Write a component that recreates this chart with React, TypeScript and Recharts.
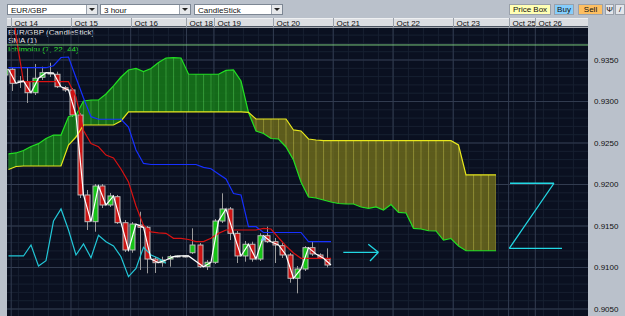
import {
  Area,
  Bar,
  CartesianGrid,
  ComposedChart,
  Line,
  ReferenceDot,
  ReferenceLine,
  XAxis,
  YAxis,
} from "recharts";

const FONT = "'Liberation Sans', Arial, sans-serif";

// candles (3 hour), index 0..43
const opens = [
  0.93319, 0.93388, 0.93235, 0.93239, 0.93106, 0.93292, 0.93337, 0.93328, 0.93166, 0.93139,
  0.92837, 0.91874, 0.91552, 0.91982, 0.91753, 0.91853, 0.9154, 0.91211, 0.91512, 0.91484,
  0.91102, 0.91058, 0.91102, 0.91133, 0.91139, 0.91178, 0.91271, 0.9101, 0.91063, 0.9156,
  0.91705, 0.91412, 0.91139, 0.9128, 0.91102, 0.91383, 0.91311, 0.91263, 0.91151, 0.9087,
  0.90982, 0.91239, 0.91151, 0.91102,
];
const highs = [
  0.93428, 0.93404, 0.93307, 0.93404, 0.93452, 0.93419, 0.93467, 0.93359, 0.93187, 0.93163,
  0.92862, 0.91934, 0.92006, 0.92006, 0.91898, 0.91874, 0.91572, 0.91548, 0.91672, 0.915,
  0.91127, 0.9113, 0.91151, 0.91145, 0.91145, 0.91472, 0.91295, 0.9109, 0.91584, 0.91894,
  0.91729, 0.9144, 0.91319, 0.91311, 0.91412, 0.91492, 0.91356, 0.91295, 0.91175, 0.91018,
  0.91259, 0.91311, 0.91171, 0.91231,
];
const lows = [
  0.93283, 0.93127, 0.93163, 0.92982, 0.93078, 0.93259, 0.93295, 0.93163, 0.93115, 0.92813,
  0.91837, 0.91452, 0.91431, 0.91717, 0.91729, 0.91524, 0.91187, 0.91178, 0.9097, 0.9093,
  0.90934, 0.9101, 0.9101, 0.91121, 0.91121, 0.91163, 0.90994, 0.9097, 0.91042, 0.91536,
  0.91331, 0.91054, 0.9107, 0.9107, 0.91078, 0.91295, 0.91054, 0.91115, 0.90817, 0.90689,
  0.90958, 0.91139, 0.91102, 0.91002,
];
const closes = [
  0.93388, 0.93219, 0.93247, 0.93106, 0.9328, 0.93347, 0.93343, 0.93178, 0.93139, 0.92837,
  0.91874, 0.91552, 0.91982, 0.91753, 0.91862, 0.9154, 0.91211, 0.91524, 0.91484, 0.91102,
  0.91058, 0.9109, 0.9113, 0.91139, 0.91139, 0.91271, 0.9101, 0.91063, 0.9156, 0.91705,
  0.91412, 0.91139, 0.9128, 0.91102, 0.91383, 0.91311, 0.91271, 0.91151, 0.9087, 0.90982,
  0.91239, 0.91163, 0.91111, 0.9103,
];

// ichimoku (7, 22, 44)
const tenkan = [
  0.94536, 0.93789, 0.93239, 0.93239, 0.93239, 0.93239, 0.93239, 0.93239, 0.93239, 0.93054,
  0.92651, 0.92494, 0.92455, 0.92355, 0.92319, 0.92187, 0.9203, 0.91741, 0.91506, 0.9143,
  0.91418, 0.91412, 0.91352, 0.91352, 0.91337, 0.91311, 0.91312, 0.91352, 0.91411, 0.91452,
  0.91452, 0.91452, 0.91452, 0.91452, 0.91472, 0.91464, 0.9136, 0.91259, 0.91175, 0.91111,
  0.91111, 0.91111, 0.91111, 0.91111,
];
const kijun = [
  0.93407, 0.93407, 0.93407, 0.93407, 0.93407, 0.93407, 0.93431, 0.9353, 0.93536, 0.93287,
  0.93042, 0.92817, 0.92786, 0.92786, 0.92786, 0.92786, 0.92693, 0.92416, 0.92254, 0.92241,
  0.92241, 0.92241, 0.92241, 0.92241, 0.92241, 0.92241, 0.92207, 0.9219, 0.92127, 0.92066,
  0.91892, 0.91874, 0.91492, 0.91492, 0.91422, 0.91422, 0.91422, 0.91422, 0.91422, 0.91422,
  0.91311, 0.91311, 0.91311, 0.91311,
];
const chikou = [
  0.91139, 0.91139, 0.91139, 0.91271, 0.91018, 0.91082, 0.9156, 0.91705, 0.91452, 0.91151,
  0.91283, 0.91118, 0.91388, 0.91311, 0.91259, 0.9113, 0.90889, 0.9099, 0.91243, 0.91151,
  0.91111, 0.91051,
];
const spanA = [
  0.92368, 0.9238, 0.9241, 0.92458, 0.92492, 0.92554, 0.92596, 0.92596, 0.92817, 0.92837,
  0.93006, 0.93018, 0.93018, 0.9309, 0.93187, 0.93295, 0.9338, 0.93398, 0.93361, 0.93398,
  0.9347, 0.93524, 0.93528, 0.93524, 0.93331, 0.93328, 0.93328, 0.93328, 0.93328, 0.93374,
  0.9338, 0.93247, 0.92868, 0.92645, 0.92615, 0.92554, 0.92548, 0.92452, 0.92295, 0.9203,
  0.91849, 0.91837, 0.91813, 0.91789, 0.91771, 0.91765, 0.91765, 0.91729, 0.91713, 0.91729,
  0.91693, 0.91759, 0.91665, 0.91657, 0.91472, 0.91464, 0.91443, 0.9144, 0.91331, 0.91349,
  0.91259, 0.91202, 0.91202, 0.91202, 0.91202, 0.91202,
];
const spanB = [
  0.92181, 0.92217, 0.92223, 0.92223, 0.92223, 0.92223, 0.92223, 0.92223, 0.92476, 0.92572,
  0.92717, 0.92717, 0.92717, 0.92717, 0.92717, 0.92765, 0.92874, 0.92874, 0.92874, 0.92874,
  0.92874, 0.92874, 0.92874, 0.92874, 0.92874, 0.92874, 0.92874, 0.92874, 0.92874, 0.92874,
  0.92874, 0.92874, 0.9287, 0.92789, 0.92789, 0.92789, 0.92789, 0.92789, 0.92657, 0.92645,
  0.92548, 0.92536, 0.92528, 0.92528, 0.92528, 0.92528, 0.92528, 0.92528, 0.92528, 0.92528,
  0.92528, 0.92528, 0.92528, 0.92528, 0.92528, 0.92528, 0.92528, 0.92528, 0.92528, 0.92528,
  0.92476, 0.92115, 0.92115, 0.92115, 0.92115, 0.92115,
];
const cloudSwitch = 32; // spans cross here

// date header (positions in bar index)
const dateLabels = ["Oct 14", "Oct 15", "Oct 16", "Oct 18", "Oct 19", "Oct 20", "Oct 21", "Oct 22", "Oct 23", "Oct 25", "Oct 26"];
const dateTicks = [0.36, 8.33, 16.29, 23.73, 27.4, 35.32, 43.29, 51.27, 59.29, 66.68, 70.24];
const priceTicks = [0.905, 0.91, 0.915, 0.92, 0.925, 0.93, 0.935];

// drawn objects
const topRule = 0.93681;
const marker = { k: 34, price: 0.91356 };
const arrowLines = [
  [{ x: 44.64, y: 0.91183 }, { x: 49.31, y: 0.91183 }],
  [{ x: 47.97, y: 0.9128 }, { x: 49.31, y: 0.91183 }],
  [{ x: 48.2, y: 0.91078 }, { x: 49.31, y: 0.91183 }],
];
const zLines = [
  [{ x: 66.87, y: 0.92015 }, { x: 72.73, y: 0.92015 }],
  [{ x: 72.73, y: 0.92015 }, { x: 66.77, y: 0.91231 }],
  [{ x: 66.77, y: 0.91231 }, { x: 73.8, y: 0.91231 }],
];

const rows = spanA.map((a, k) => {
  const hasBar = k < closes.length;
  return {
    k,
    candle: hasBar ? [lows[k], highs[k]] : null,
    o: hasBar ? opens[k] : null,
    h: hasBar ? highs[k] : null,
    l: hasBar ? lows[k] : null,
    c: hasBar ? closes[k] : null,
    sma: hasBar && k !== 25 ? closes[k] : null,
    tenkan: k < tenkan.length ? tenkan[k] : null,
    kijun: k < kijun.length ? kijun[k] : null,
    chikou: k < chikou.length ? chikou[k] : null,
    spanA: a,
    spanB: spanB[k],
    cloudUp: k <= cloudSwitch ? [spanB[k], a] : null,
    cloudDown: k >= cloudSwitch ? [a, spanB[k]] : null,
  };
});

const minorH = Array.from({ length: 35 }, (_, n) => +(0.905 + n * 0.001).toFixed(3));
const minorV = Array.from({ length: 40 }, (_, n) => 35.32 + 2 * (n - 18)).filter((v) => v > -0.2 && v < 77.2);

function Candle(props: any) {
  const { x, y, width, height, payload } = props;
  if (!payload || payload.c == null || height == null) return null;
  const { o, h, l, c } = payload;
  const span = h - l || 1e-9;
  const yAt = (v: number) => y + ((h - v) / span) * height;
  const top = yAt(Math.max(o, c));
  const bot = yAt(Math.min(o, c));
  const cx = Math.round(x + width / 2) + 0.5;
  const up = c >= o;
  return (
    <g>
      <line x1={cx} x2={cx} y1={y} y2={y + height} stroke="#9c9c9c" strokeWidth={1} />
      <rect
        x={cx - 2.5}
        y={top}
        width={5}
        height={Math.max(bot - top, 1)}
        fill={up ? "#16c416" : "#cc1313"}
        stroke="#bcbcbc"
        strokeWidth={1}
      />
    </g>
  );
}

function DateTick(props: any) {
  const { x, index } = props;
  const px = Math.round(x) + 0.5;
  return (
    <g>
      <line x1={px} x2={px} y1={18} y2={28} stroke="#9aa0a9" />
      <text x={px + 3} y={26} fontSize={8} fill="#111" fontFamily={FONT}>
        {dateLabels[index]}
      </text>
    </g>
  );
}

function Marker(props: any) {
  const { cx, cy } = props;
  return <polygon points={`${cx - 3},${cy + 2.5} ${cx},${cy - 2.5} ${cx + 3},${cy + 2.5}`} fill="#7cc4f0" />;
}

function Dropdown({ left, width, text }: { left: number; width: number; text: string }) {
  return (
    <div
      style={{
        position: "absolute",
        left,
        top: 4,
        width,
        height: 11,
        background: "#fff",
        border: "1px solid #7d8794",
        fontSize: 8,
        lineHeight: "11px",
        paddingLeft: 3,
        boxSizing: "border-box",
      }}
    >
      {text}
      <div
        style={{
          position: "absolute",
          right: 0,
          top: 0,
          width: 10,
          height: 9,
          background: "#e6e8eb",
          borderLeft: "1px solid #9aa2ad",
        }}
      >
        <div
          style={{
            position: "absolute",
            left: 2,
            top: 3,
            width: 0,
            height: 0,
            borderLeft: "3px solid transparent",
            borderRight: "3px solid transparent",
            borderTop: "3px solid #222",
          }}
        />
      </div>
    </div>
  );
}

function Button({ left, width, bg, text }: { left: number; width: number; bg: string; text: string }) {
  return (
    <div
      style={{
        position: "absolute",
        left,
        top: 4,
        width,
        height: 11,
        background: bg,
        border: "1px solid #9aa1ab",
        boxSizing: "border-box",
        fontSize: 8,
        lineHeight: "9px",
        textAlign: "center",
      }}
    >
      {text}
    </div>
  );
}

export default function App() {
  return (
    <div
      style={{
        position: "relative",
        width: 625,
        height: 316,
        overflow: "hidden",
        background: "#bac1cb",
        fontFamily: FONT,
        color: "#111",
      }}
    >
      <style>{"html,body{margin:0;padding:0;overflow:hidden}"}</style>

      <Dropdown left={7} width={91} text="EUR/GBP" />
      <Dropdown left={100} width={91} text="3 hour" />
      <Dropdown left={194} width={89} text="CandleStick" />
      <Button left={509} width={42} bg="#ffffb4" text="Price Box" />
      <Button left={554} width={20} bg="#86cdfb" text="Buy" />
      <Button left={578} width={25} bg="#fdbf62" text="Sell" />
      <Button left={605} width={9} bg="#e4e6ea" text="Ψ" />
      <Button left={615} width={10} bg="#e4e6ea" text="/" />

      <div
        style={{
          position: "absolute",
          left: 7,
          top: 18,
          width: 581,
          height: 10,
          background: "#dcdee2",
          borderTop: "1px solid #eef0f2",
          boxSizing: "border-box",
        }}
      />
      <div style={{ position: "absolute", left: 7, top: 28, width: 581, height: 288, background: "#0a1020" }} />

      <div style={{ position: "absolute", left: 8, top: 28, fontSize: 8, lineHeight: "9px", color: "#e8e8ec" }}>
        EUR/GBP (CandleStick)
      </div>
      <div style={{ position: "absolute", left: 8, top: 36, fontSize: 8, lineHeight: "9px", color: "#e8e8ec" }}>
        SMA (1)
      </div>
      <div style={{ position: "absolute", left: 8, top: 45, fontSize: 8, lineHeight: "9px", color: "#2fe02f" }}>
        Ichimoku (7, 22, 44)
      </div>

      <div style={{ position: "absolute", left: 0, top: 0 }}>
        <ComposedChart width={625} height={316} data={rows} margin={{ top: 18, right: 0, bottom: 0, left: 7 }}>
          <defs>
            <pattern id="cloudGreen" patternUnits="userSpaceOnUse" x={8} y={0} width={7.5} height={8}>
              <rect width={7.5} height={8} fill="#167a18" />
              <rect width={1} height={8} fill="#38ad38" />
            </pattern>
            <pattern id="cloudYellow" patternUnits="userSpaceOnUse" x={8} y={0} width={7.5} height={8}>
              <rect width={7.5} height={8} fill="#6a681b" />
              <rect width={1} height={8} fill="#a09d34" />
            </pattern>
          </defs>
          <XAxis
            xAxisId="candle"
            dataKey="k"
            type="number"
            domain={[0.2667, 77.733]}
            allowDataOverflow
            hide
          />
          <XAxis
            xAxisId="line"
            dataKey="k"
            type="number"
            orientation="top"
            height={10}
            domain={[-0.2, 77.267]}
            allowDataOverflow
            ticks={dateTicks}
            interval={0}
            tick={(p: any) => <DateTick {...p} />}
            axisLine={false}
            tickLine={false}
          />
          <YAxis
            orientation="right"
            width={37}
            domain={[0.904157, 0.938855]}
            allowDataOverflow
            ticks={priceTicks}
            interval={0}
            tickFormatter={(v: number) => v.toFixed(4)}
            tick={{ fontSize: 8, fill: "#111", fontFamily: FONT }}
            axisLine={false}
            tickLine={false}
            tickSize={0}
            tickMargin={6}
          />
          <CartesianGrid xAxisId="line" horizontalValues={minorH} verticalValues={minorV} stroke="#172031" />
          <CartesianGrid xAxisId="line" horizontalValues={priceTicks} verticalValues={dateTicks} stroke="#323c50" />

          <Bar xAxisId="candle" dataKey="candle" barSize={5} shape={Candle} isAnimationActive={false} />

          <Area
            xAxisId="line"
            dataKey="cloudUp"
            type="linear"
            stroke="none"
            fill="url(#cloudGreen)"
            fillOpacity={0.85}
            isAnimationActive={false}
          />
          <Area
            xAxisId="line"
            dataKey="cloudDown"
            type="linear"
            stroke="none"
            fill="url(#cloudYellow)"
            fillOpacity={0.85}
            isAnimationActive={false}
          />
          <Line xAxisId="line" dataKey="spanA" type="linear" stroke="#22e022" strokeWidth={1.2} dot={false} isAnimationActive={false} />
          <Line xAxisId="line" dataKey="spanB" type="linear" stroke="#e8e81c" strokeWidth={1.2} dot={false} isAnimationActive={false} />
          <Line xAxisId="line" dataKey="kijun" type="linear" stroke="#1630ff" strokeWidth={1.2} dot={false} isAnimationActive={false} />
          <Line xAxisId="line" dataKey="tenkan" type="linear" stroke="#d81212" strokeWidth={1.2} dot={false} isAnimationActive={false} />
          <Line xAxisId="line" dataKey="chikou" type="linear" stroke="#22c6d6" strokeWidth={1.2} dot={false} isAnimationActive={false} />
          <Line
            xAxisId="line"
            dataKey="sma"
            type="linear"
            stroke="#ffffff"
            strokeWidth={1.2}
            dot={false}
            connectNulls
            isAnimationActive={false}
          />

          <ReferenceLine xAxisId="line" y={topRule} stroke="#79c879" strokeWidth={1} />
          {arrowLines.concat(zLines).map((seg, n) => (
            <ReferenceLine
              key={n}
              xAxisId="line"
              segment={seg}
              stroke="#22d8e4"
              strokeWidth={1.3}
              ifOverflow="visible"
            />
          ))}
          <ReferenceDot xAxisId="line" x={marker.k} y={marker.price} shape={Marker} ifOverflow="visible" />
        </ComposedChart>
      </div>
    </div>
  );
}
